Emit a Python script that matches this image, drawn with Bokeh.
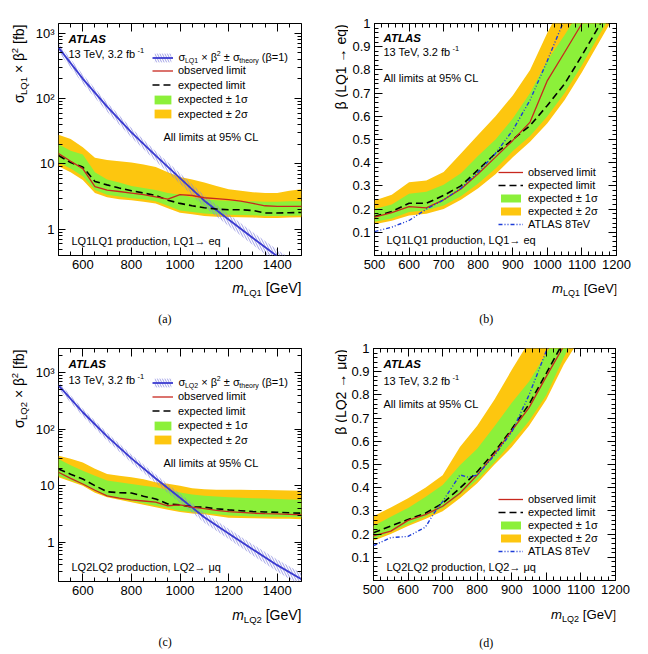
from math import pi
from bokeh.plotting import figure
from bokeh.models import (Range1d, LinearAxis, LogAxis, FixedTicker, CustomJSTickFormatter,
                          Label, Legend, LegendItem, Spacer)
from bokeh.layouts import column, row
from bokeh.embed import file_html
from bokeh.resources import INLINE

FONT = "Liberation Sans"
SERIF = "Liberation Serif"

# ------------------------------------------------------------------ data
# theory cross-section sigma x beta^2 (beta = 1) with its uncertainty band [fb]
m_theory = [500, 600, 700, 800, 900, 1000, 1100, 1200, 1300, 1400, 1500]
sigma_theory = [600, 200, 75, 30.5, 13.4, 6.1, 2.75, 1.42, 0.74, 0.39, 0.22]
sigma_theory_hi = [690, 232, 87, 35.5, 15.7, 7.2, 3.3, 1.72, 0.91, 0.49, 0.28]
sigma_theory_lo = [515, 170, 63, 25.5, 11.1, 5.0, 2.2, 1.13, 0.58, 0.30, 0.165]

# panel (a): LQ1 cross-section limits [fb]
m_a = [500, 550, 600, 650, 700, 750, 800, 850, 900, 950, 1000, 1050, 1100, 1150, 1200,
       1250, 1300, 1350, 1400, 1450, 1500]
obs_a = [14.5, 11.0, 8.5, 4.5, 4.0, 3.8, 3.6, 3.4, 3.15, 2.9, 3.4, 3.3, 3.05, 2.95, 2.85,
         2.7, 2.5, 2.3, 2.25, 2.25, 2.25]
exp_a = [13.5, 10.5, 9.0, 5.4, 4.8, 4.3, 3.9, 3.6, 3.3, 2.8, 2.5, 2.3, 2.15, 2.05, 2.0,
         2.0, 1.95, 1.78, 1.78, 1.8, 1.82]
g_hi_a = [20, 16, 14, 7.5, 5.8, 5.2, 4.6, 4.3, 4.0, 3.6, 3.4, 3.1, 2.9, 2.8, 2.75,
          2.7, 2.7, 2.65, 2.65, 2.7, 2.7]
g_lo_a = [10.5, 8.5, 6.5, 4.0, 3.4, 3.2, 3.0, 2.9, 2.7, 2.3, 1.95, 1.85, 1.75, 1.7, 1.68,
          1.66, 1.65, 1.6, 1.6, 1.62, 1.63]
o_hi_a = [28, 24, 18, 12.5, 11.5, 11, 10.5, 9.8, 9.0, 7.5, 6.3, 5.8, 5.2, 4.6, 4.1,
          3.9, 3.7, 3.6, 3.6, 3.9, 4.1]
o_lo_a = [9.2, 7.5, 5.7, 3.6, 3.1, 2.9, 2.8, 2.65, 2.5, 2.1, 1.8, 1.7, 1.6, 1.57, 1.55,
          1.53, 1.52, 1.5, 1.5, 1.52, 1.53]

# panel (c): LQ2 cross-section limits [fb]
m_c = m_a
obs_c = [17.3, 13.5, 10.7, 8.3, 6.6, 6.0, 5.6, 5.35, 5.1, 4.4, 4.55, 4.15, 3.9, 3.65, 3.47,
         3.35, 3.25, 3.2, 3.16, 3.1, 3.04]
exp_c = [19.7, 16, 13.1, 10, 7.8, 7.5, 7.4, 6.5, 5.8, 4.75, 4.55, 4.2, 4.15, 3.9, 3.72,
         3.6, 3.47, 3.42, 3.38, 3.3, 3.25]
g_hi_c = [29.6, 23, 18.4, 15, 12.3, 11.5, 10.7, 10, 9.4, 8.5, 7.6, 7.0, 6.6, 6.4, 6.2,
          6.1, 6.0, 5.9, 5.8, 5.7, 5.6]
g_lo_c = [15.0, 12.5, 10.5, 8.0, 6.5, 5.9, 5.4, 4.9, 4.4, 4.0, 3.6, 3.4, 3.25, 3.1, 2.95,
          2.9, 2.85, 2.82, 2.8, 2.78, 2.75]
o_hi_c = [33.8, 30, 25.8, 20, 16.1, 15, 14.1, 13, 11.5, 10.8, 10, 9.0, 8.6, 8.5, 8.5,
          8.5, 8.4, 8.4, 8.3, 8.2, 8.1]
o_lo_c = [14.1, 11.8, 10, 7.5, 6.2, 5.6, 5.1, 4.6, 4.15, 3.75, 3.4, 3.2, 3.1, 2.9, 2.7,
          2.68, 2.65, 2.62, 2.6, 2.58, 2.55]

# panel (b): beta limits, LQ1 -> eq
m_b = [500, 550, 600, 650, 700, 750, 800, 850, 900, 950, 1000, 1050, 1100, 1150, 1200]
obs_b = [0.165, 0.185, 0.211, 0.205, 0.24, 0.287, 0.352, 0.424, 0.496, 0.575, 0.754, 0.876,
         1.0, 1.1, 1.2]
exp_b = [0.168, 0.19, 0.225, 0.225, 0.259, 0.30, 0.37, 0.44, 0.50, 0.56, 0.647, 0.74,
         0.862, 0.99, 1.13]
g_hi_b = [0.20, 0.22, 0.266, 0.275, 0.305, 0.355, 0.43, 0.50, 0.59, 0.70, 0.84, 0.95,
          1.07, 1.2, 1.3]
g_lo_b = [0.145, 0.16, 0.187, 0.195, 0.215, 0.255, 0.31, 0.375, 0.45, 0.515, 0.60, 0.70,
          0.82, 0.95, 1.08]
o_hi_b = [0.237, 0.262, 0.316, 0.323, 0.36, 0.44, 0.52, 0.60, 0.69, 0.80, 0.96, 1.1,
          1.25, 1.4, 1.5]
o_lo_b = [0.135, 0.15, 0.172, 0.18, 0.20, 0.24, 0.29, 0.35, 0.424, 0.49, 0.57, 0.67,
          0.79, 0.92, 1.05]
m8_b = [500, 550, 600, 650, 700, 750, 800, 850, 900, 950, 1000, 1050]
atlas8_b = [0.103, 0.122, 0.151, 0.2, 0.24, 0.29, 0.36, 0.44, 0.54, 0.67, 0.84, 1.02]

# panel (d): beta limits, LQ2 -> mu q
m_d = m_b
obs_d = [0.192, 0.213, 0.259, 0.284, 0.32, 0.376, 0.454, 0.546, 0.646, 0.745, 0.88, 1.01,
         1.15, 1.3, 1.45]
exp_d = [0.206, 0.235, 0.263, 0.29, 0.333, 0.398, 0.469, 0.554, 0.653, 0.76, 0.894, 1.03,
         1.17, 1.3, 1.45]
g_hi_d = [0.235, 0.275, 0.313, 0.36, 0.412, 0.497, 0.568, 0.665, 0.766, 0.858, 0.98, 1.1,
          1.2, 1.3, 1.4]
g_lo_d = [0.178, 0.21, 0.242, 0.275, 0.313, 0.37, 0.433, 0.51, 0.596, 0.688, 0.80, 0.96,
          1.1, 1.2, 1.3]
o_hi_d = [0.277, 0.315, 0.355, 0.40, 0.454, 0.575, 0.667, 0.78, 0.908, 1.03, 1.15, 1.3,
          1.4, 1.5, 1.6]
o_lo_d = [0.171, 0.2, 0.235, 0.265, 0.298, 0.355, 0.419, 0.50, 0.575, 0.667, 0.78, 0.93,
          1.05, 1.2, 1.3]
m8_d = [500, 550, 600, 650, 675, 700, 750, 775, 800, 850, 900, 950, 1000, 1010]
atlas8_d = [0.15, 0.185, 0.19, 0.23, 0.29, 0.34, 0.455, 0.445, 0.455, 0.54, 0.64, 0.80, 0.99, 1.02]

# ticks
x_major_sigma = [600, 800, 1000, 1200, 1400]
x_minor_sigma = list(range(500, 1501, 50))
y_major_log = [1, 10, 100, 1000]
y_minor_log = [d * k for d in (0.1, 1, 10, 100, 1000) for k in range(2, 10)]
x_major_beta = [500, 600, 700, 800, 900, 1000, 1100, 1200]
x_minor_beta = list(range(500, 1201, 20))
y_major_beta = [0.1, 0.2, 0.3, 0.4, 0.5, 0.6, 0.7, 0.8, 0.9, 1.0]
y_minor_beta = [i / 50 for i in range(0, 51)]

GREEN = "#8cf03a"
ORANGE = "#fdc60f"
RED = "#c8281e"
BLUE = "#3a3ad0"
HATCH = "#8080dc"
BLUE8 = "#1c3cd8"

# approximate Liberation Sans advance widths (per 1000 em)
WID = {" ": 278, "(": 333, ")": 333, "[": 278, "]": 278, ",": 278, ".": 278, "-": 333,
       "%": 889, "=": 584, "\u00d7": 584, "\u00b1": 549, "\u2192": 1000, "A": 667, "C": 722,
       "G": 778, "L": 556, "Q": 778, "S": 667, "T": 611, "V": 667, "a": 556, "b": 556,
       "c": 500, "d": 556, "e": 556, "f": 278, "h": 556, "i": 222, "l": 222, "m": 833,
       "n": 556, "o": 556, "p": 556, "q": 556, "r": 333, "s": 500, "t": 278, "u": 556,
       "v": 500, "y": 500, "\u03c3": 580, "\u03b2": 565, "\u03bc": 576}


def tw(s, size):
    return sum(WID.get(c, 556) for c in s) * size / 1000.0


class Canvas:
    """A figure plus the page pixel position of its frame, for placing texts by page pixels."""

    def __init__(self, p, left, bottom, xa, ya):
        self.p, self.left, self.bottom, self.xa, self.ya = p, left, bottom, xa, ya

    def _label(self, X, Y, t, s, st, family, angle=0.0):
        self.p.add_layout(Label(x=self.xa, y=self.ya, x_offset=X - self.left,
                                y_offset=self.bottom - Y, text=t, text_font=family,
                                text_font_size=f"{s}px", text_font_style=st, angle=angle,
                                text_baseline="middle", text_align="left",
                                text_color="black"))

    def text(self, X, Yc, pieces, align="left", family=FONT):
        """pieces: (text, size, raise_px, style); Yc is the visual centre line."""
        base = pieces[0][1]
        total = sum(tw(t, s) for t, s, sh, st in pieces)
        x = X if align == "left" else (X - total if align == "right" else X - total / 2)
        for t, s, sh, st in pieces:
            lead = len(t) - len(t.lstrip(" "))
            body = t.strip(" ")
            self._label(x + tw(" " * lead, s), Yc + 0.35 * (base - s) - sh, body, s, st, family)
            x += tw(t, s)

    def vtext(self, Xc, Ytop, pieces, family=FONT):
        base = pieces[0][1]
        total = sum(tw(t, s) for t, s, sh, st in pieces)
        pos = Ytop + total
        for t, s, sh, st in pieces:
            lead = len(t) - len(t.lstrip(" "))
            body = t.strip(" ")
            self._label(Xc + 0.35 * (base - s) - sh, pos - tw(" " * lead, s), body, s, st,
                        family, pi / 2)
            pos -= tw(t, s)


def plain_fig(fw, fh, lb, rb, tb, bb):
    p = figure(frame_width=fw, frame_height=fh, x_range=Range1d(0, fw), y_range=Range1d(0, fh),
               x_axis_location=None, y_axis_location=None,
               min_border_left=lb, min_border_right=rb, min_border_top=tb, min_border_bottom=bb,
               output_backend="svg", toolbar_location=None, tools="")
    p.xgrid.visible = False
    p.ygrid.visible = False
    p.outline_line_color = None
    p.background_fill_color = "white"
    p.border_fill_color = "white"
    return p


def style_axis(ax, show, major_len=8):
    ax.axis_line_color = None
    ax.major_tick_in = major_len
    ax.major_tick_out = 0
    ax.minor_tick_in = 4
    ax.minor_tick_out = 0
    ax.major_tick_line_color = "black"
    ax.minor_tick_line_color = "black"
    ax.major_label_text_font = FONT
    ax.major_label_text_font_size = "13px" if show else "1px"
    ax.major_label_text_color = "black" if show else None
    ax.major_label_standoff = 4 if show else 0


BLANK = "return '';"


def setup_axes(p, xmaj, xmin, ymaj, ymin, ylog):
    xt = FixedTicker(ticks=xmaj, minor_ticks=xmin)
    yt = FixedTicker(ticks=ymaj, minor_ticks=ymin)
    xf = CustomJSTickFormatter(code="return tick.toFixed(0);")
    if ylog:
        yf = CustomJSTickFormatter(code="""
            const e = Math.round(Math.log10(tick));
            if (e == 0) return "1";
            if (e == 1) return "10";
            if (e == 2) return "10\\u00b2";
            if (e == 3) return "10\\u00b3";
            return "";""")
    else:
        yf = CustomJSTickFormatter(code='return Math.abs(tick - 1) < 1e-6 ? "1" : tick.toFixed(1);')
    p.xaxis.ticker = xt
    p.xaxis.formatter = xf
    p.yaxis.ticker = yt
    p.yaxis.formatter = yf
    style_axis(p.xaxis[0], True)
    style_axis(p.yaxis[0], True, 7 if ylog else 8)
    top = LinearAxis(ticker=xt, formatter=CustomJSTickFormatter(code=BLANK))
    style_axis(top, False)
    p.add_layout(top, "above")
    rf = CustomJSTickFormatter(code=BLANK)
    right = LogAxis(ticker=yt, formatter=rf) if ylog else LinearAxis(ticker=yt, formatter=rf)
    style_axis(right, False, 7 if ylog else 8)
    p.add_layout(right, "right")


def add_legend(p, fx0, fy1, items, X, centers, gw, gh, fs, item_h):
    """One single-entry legend per item, so every entry sits at its own height."""
    for it, yc in zip(items, centers):
        top = yc - item_h / 2.0
        lg = Legend(items=[it], location=(X - fx0, fy1 - (top + item_h)),
                    orientation="vertical", padding=0, margin=0, spacing=0,
                    glyph_width=gw, glyph_height=gh, label_height=gh, label_standoff=5,
                    label_text_font=FONT, label_text_font_size=f"{fs}px",
                    label_text_color="black", background_fill_alpha=0, border_line_alpha=0)
        p.add_layout(lg)


BB = 22  # bottom border of the main plots (tick labels)


def build_panel(ox, oy, fx0, fy0, fx1, fy1, lb, xr, yr, ylog):
    ytw = fx0 - ox - lb
    fw, fh = fx1 - fx0, fy1 - fy0
    rb, tb = ox + 324 - fx1, fy0 - oy
    p = figure(frame_width=fw, frame_height=fh,
               min_border_left=lb, min_border_right=rb, min_border_top=tb, min_border_bottom=BB,
               x_range=Range1d(*xr), y_range=Range1d(*yr),
               y_axis_type="log" if ylog else "linear",
               output_backend="svg", toolbar_location=None, tools="")
    p.xgrid.visible = False
    p.ygrid.visible = False
    p.outline_line_color = "black"
    p.outline_line_width = 1
    p.background_fill_color = "white"
    p.border_fill_color = "white"
    yfig = plain_fig(ytw, fh, 0, 0, tb, BB)
    bh = oy + 327 - (fy1 + BB)
    bfig = plain_fig(fw, bh, lb, rb, 0, 0)
    main = Canvas(p, fx0, fy1, xr[0], yr[0])
    ycan = Canvas(yfig, ox, fy1, 0, 0)
    bcan = Canvas(bfig, fx0, oy + 327, 0, 0)
    lay = column(row(yfig, p), row(Spacer(width=ytw, height=bh), bfig))
    return p, main, ycan, bcan, lay


def sigma_panel(ox, oy, fx0, fy0, fx1, fy1, yr, m, obs, exp, ghi, glo, ohi, olo, lq, dec,
                tag, ys, lcenters):
    p, main, ycan, bcan, lay = build_panel(ox, oy, fx0, fy0, fx1, fy1, 28, (500, 1500), yr, True)
    setup_axes(p, x_major_sigma, x_minor_sigma, y_major_log, y_minor_log, True)
    r2 = p.varea(x=m, y1=olo, y2=ohi, fill_color=ORANGE)
    r1 = p.varea(x=m, y1=glo, y2=ghi, fill_color=GREEN)
    rth_band = p.varea(x=m_theory, y1=sigma_theory_lo, y2=sigma_theory_hi, fill_color=None,
                       fill_alpha=0, hatch_pattern="\\", hatch_color=HATCH, hatch_scale=5,
                       hatch_weight=0.8, hatch_alpha=0.9)
    rth = p.line(m_theory, sigma_theory, line_color=BLUE, line_width=1.8)
    rexp = p.line(m, exp, line_color="black", line_width=1.6, line_dash="7 4")
    robs = p.line(m, obs, line_color=RED, line_width=1.3)
    items = [LegendItem(label=" ", renderers=[rth_band, rth]),
             LegendItem(label="observed limit", renderers=[robs]),
             LegendItem(label="expected limit", renderers=[rexp]),
             LegendItem(label="expected \u00b1 1\u03c3", renderers=[r1]),
             LegendItem(label="expected \u00b1 2\u03c3", renderers=[r2])]
    add_legend(p, fx0, fy1, items, 152, lcenters, 21, 11, 11, 13)
    main.text(178, lcenters[0], [("\u03c3", 11, 0, "normal"), (lq, 7, -2.5, "normal"),
                                 (" \u00d7 \u03b2", 11, 0, "normal"), ("2", 7, 4.5, "normal"),
                                 (" \u00b1 \u03c3", 11, 0, "normal"),
                                 ("theory", 7, -2.5, "normal"),
                                 (" (\u03b2=1)", 11, 0, "normal")])
    main.text(68, ys[1], [("ATLAS", 11.5, 0, "bold italic")])
    main.text(68, ys[2], [("13 TeV, 3.2 fb", 11, 0, "normal"), ("-1", 7.5, 4.5, "normal")])
    main.text(163, ys[3], [("All limits at 95% CL", 11, 0, "normal")])
    main.text(71, ys[4], [(f"{lq}{lq} production, {lq}\u2192 {dec}", 11, 0, "normal")])
    ycan.vtext(18, ys[5], [("\u03c3", 14, 0, "normal"), (lq, 9.5, -3, "normal"),
                           (" \u00d7 \u03b2", 14, 0, "normal"), ("2", 9.5, 5.5, "normal"),
                           (" [fb]", 14, 0, "normal")])
    bcan.text(fx1, ys[6], [("m", 14, 0, "italic"), (lq, 9.5, -3.3, "normal"),
                           (" [GeV]", 14, 0, "normal")], align="right")
    bcan.text(165, ys[7], [(tag, 12, 0, "normal")], align="center", family=SERIF)
    return lay


def beta_panel(ox, oy, fx0, fy0, fx1, fy1, m, obs, exp, ghi, glo, ohi, olo, m8, a8, lq, dec,
               tag, ys, lcenters):
    p, main, ycan, bcan, lay = build_panel(ox, oy, fx0, fy0, fx1, fy1, 26, (500, 1200), (0, 1), False)
    setup_axes(p, x_major_beta, x_minor_beta, y_major_beta, y_minor_beta, False)
    r2 = p.varea(x=m, y1=olo, y2=ohi, fill_color=ORANGE)
    r1 = p.varea(x=m, y1=glo, y2=ghi, fill_color=GREEN)
    rexp = p.line(m, exp, line_color="black", line_width=1.6, line_dash="7 4")
    robs = p.line(m, obs, line_color=RED, line_width=1.3)
    r8 = p.line(m8, a8, line_color=BLUE8, line_width=1.4, line_dash="4 2 1 2 1 2")
    items = [LegendItem(label="observed limit", renderers=[robs]),
             LegendItem(label="expected limit", renderers=[rexp]),
             LegendItem(label="expected \u00b1 1\u03c3", renderers=[r1]),
             LegendItem(label="expected \u00b1 2\u03c3", renderers=[r2]),
             LegendItem(label="ATLAS 8TeV", renderers=[r8])]
    add_legend(p, fx0, fy1, items, 498, lcenters, 25, 10, 11, 13)
    main.text(383, ys[0], [("ATLAS", 11.5, 0, "bold italic")])
    main.text(383, ys[1], [("13 TeV, 3.2 fb", 11, 0, "normal"), ("-1", 7.5, 4.5, "normal")])
    main.text(383, ys[2], [("All limits at 95% CL", 11, 0, "normal")])
    main.text(386, ys[3], [(f"{lq}{lq} production, {lq}\u2192 {dec}", 11, 0, "normal")])
    ycan.vtext(340, ys[4], [(f"\u03b2 ({lq} \u2192 {dec})", 14, 0, "normal")])
    bcan.text(fx1 + 1, ys[5], [("m", 13.2, 0, "italic"), (lq, 9, -3.2, "normal"),
                               (" [GeV]", 13.2, 0, "normal")], align="right")
    bcan.text(486, ys[6], [(tag, 12, 0, "normal")], align="center", family=SERIF)
    return lay


la = sigma_panel(0, 0, 58, 23, 301, 255, (0.4, 1400), m_a, obs_a, exp_a, g_hi_a, g_lo_a,
                 o_hi_a, o_lo_a, "LQ1", "eq", "(a)",
                 [0, 38.5, 53, 136, 240, 24, 287.5, 318], [56, 69.5, 84, 98.5, 113])
lc = sigma_panel(0, 327, 58, 348, 301, 581, (0.2, 2700), m_c, obs_c, exp_c, g_hi_c, g_lo_c,
                 o_hi_c, o_lo_c, "LQ2", "\u03bcq", "(c)",
                 [0, 363.3, 379.3, 462.7, 566.7, 349, 614, 641.7], [381, 395.5, 410, 424.5, 439])
lb = beta_panel(324, 0, 374, 23, 616, 255, m_b, obs_b, exp_b, g_hi_b, g_lo_b, o_hi_b, o_lo_b,
                m8_b, atlas8_b, "LQ1", "eq", "(b)", [37.7, 51.7, 77.7, 239.3, 24, 287.5, 318],
                [171.5, 184.5, 197.5, 210.5, 223.5])
ld = beta_panel(324, 327, 373, 348, 615, 580, m_d, obs_d, exp_d, g_hi_d, g_lo_d, o_hi_d,
                o_lo_d, m8_d, atlas8_d, "LQ2", "\u03bcq", "(d)",
                [363.3, 380.7, 403.3, 566.7, 349, 613.5, 642.7], [498.5, 511.5, 524.5, 537.5, 550.5])

layout = column(row(la, lb), row(lc, ld))
open("out.html", "w").write(file_html(layout, INLINE))
